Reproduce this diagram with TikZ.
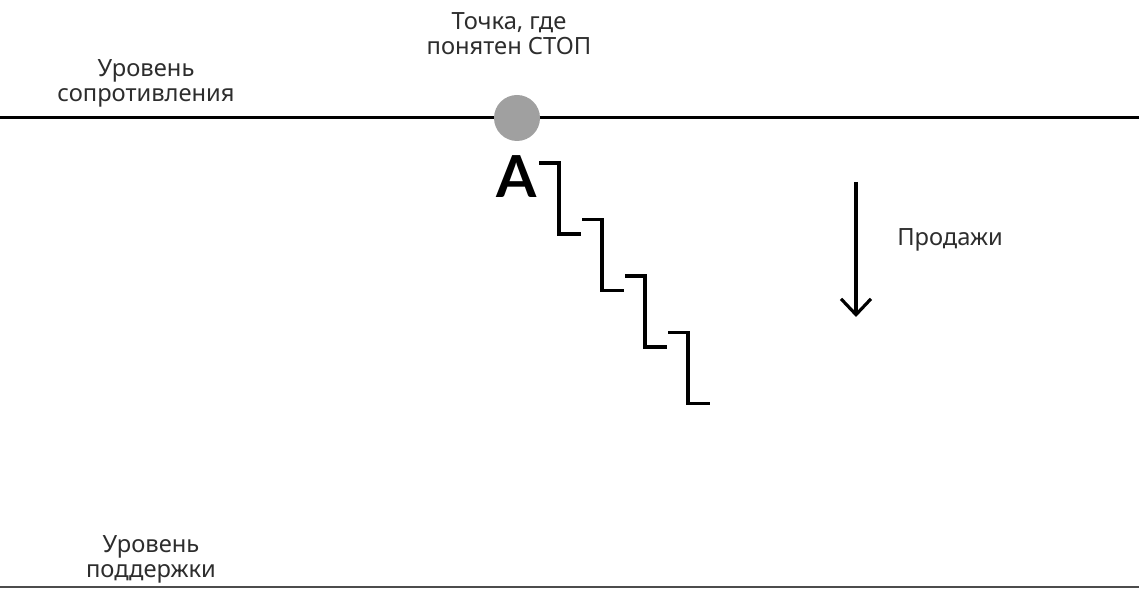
\documentclass[tikz,border=0pt]{standalone}
\usepackage{fontspec}
\setmainfont{Noto Sans}
\newfontfamily\letterfont{Lato}
\usetikzlibrary{arrows.meta,positioning}
\definecolor{stopgray}{RGB}{160,160,160}
\definecolor{labelgray}{RGB}{45,45,45}
\tikzset{
  levellabel/.style={align=center,anchor=base,text=labelgray,font=\fontsize{13.5}{14.5}\selectfont},
  levelline/.style={line width=1.7pt,black},
  stepline/.style={line width=2pt,line cap=rect}
}

\begin{document}
\begin{tikzpicture}[x=0.02cm,y=-0.02cm]
  \useasboundingbox (0,0) rectangle (1139,590);
  % Levels
  \coordinate (resL) at (0,118);
  \coordinate (resR) at (1139,118);
  \coordinate (supL) at (0,587);
  \coordinate (supR) at (1139,587);
  \draw[levelline] (resL) -- (resR);
  \draw[line width=1.1pt,black!70] (supL) -- (supR);
  \node[levellabel] (res) at (146,102) {Уровень\\сопротивления};
  \node[levellabel] (sup) at (151,578) {Уровень\\поддержки};
  % Stop point
  \node[circle,fill=stopgray,inner sep=0pt,minimum size=0.92cm] (stop) at (517,118) {};
  \node[levellabel] (stoptext) at (509,55) {Точка, где\\понятен СТОП};
  \node[font=\letterfont\bfseries\fontsize{33}{33}\selectfont,inner sep=0pt,anchor=base] (pa) at (517,198) {A};
  % Falling steps
  \foreach \i in {0,1,2,3}{
    \draw[stepline] (541+43*\i,163+56.5*\i) -- ++(18,0) -- ++(0,71) -- ++(20,0);
  }
  % Sell direction
  \coordinate (selltop) at (856,182);
  \coordinate (sellbot) at (856,317);
  \draw[line width=1.8pt,-{Straight Barb[length=9pt,width=17pt,line width=1.8pt]}] (selltop) -- (sellbot);
  \node[levellabel] (sell) at (950,246) {Продажи};
\end{tikzpicture}
\end{document}
